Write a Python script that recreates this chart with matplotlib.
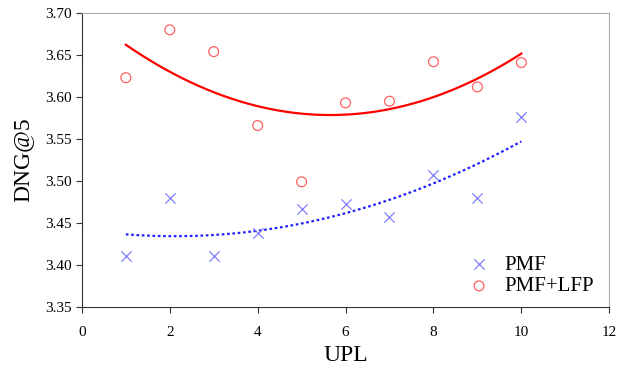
import matplotlib
matplotlib.use("Agg")
import numpy as np
import matplotlib.pyplot as plt

# datos
upl = [1, 2, 3, 4, 5, 6, 7, 8, 9, 10]
pmf = [3.411, 3.480, 3.411, 3.438, 3.467, 3.473, 3.457, 3.507, 3.480, 3.576]
pmf_lfp = [3.623, 3.680, 3.654, 3.566, 3.499, 3.593, 3.595, 3.642, 3.612, 3.641]

plt.rcParams['font.family'] = ['Liberation Serif', 'DejaVu Serif']

fig = plt.figure(figsize=(6.3, 3.72), dpi=100)
ax = fig.add_axes([0.130, 0.175, 0.837, 0.790])

x = np.array(upl)
xs = np.linspace(x.min(), x.max(), 200)

# líneas de tendencia polinómicas de grado 2
c_pmf = np.polyfit(x, pmf, 2)
c_lfp = np.polyfit(x, pmf_lfp, 2)
ax.plot(xs, np.polyval(c_lfp, xs), color='red', linewidth=1.6, zorder=2)
ax.plot(xs, np.polyval(c_pmf, xs), color='#2020ff', linewidth=1.6,
        linestyle=(0, (1.2, 1.2)), zorder=2)

ax.scatter(x, pmf, marker='x', s=55, color='#8080ff', linewidths=0.9,
           label='PMF', zorder=3)
ax.scatter(x, pmf_lfp, marker='o', s=50, facecolors='none',
           edgecolors='#ff6060', linewidths=0.9, label='PMF+LFP', zorder=3)

ax.set_xlim(0, 12)
ax.set_ylim(3.35, 3.70)
ax.set_xticks(range(0, 13, 2))
ax.set_yticks(np.arange(3.35, 3.701, 0.05))
ax.yaxis.set_major_formatter(matplotlib.ticker.FormatStrFormatter('%.2f'))
ax.tick_params(direction='out', length=4, labelsize=11, colors='#333333',
               labelcolor='black')
ax.tick_params(axis='x', pad=10)

for s in ['left', 'bottom']:
    ax.spines[s].set_color('#333333')
for s in ['top', 'right']:
    ax.spines[s].set_color('#aaaaaa')

ax.set_xlabel('UPL', fontsize=17, labelpad=4)
ax.set_ylabel('DNG@5', fontsize=17, labelpad=8)

ax.legend(loc='lower right', frameon=False, fontsize=15, handletextpad=0.2,
          labelspacing=0.1, borderaxespad=0.6, bbox_to_anchor=(1.01, -0.035))

fig.savefig('out.png', dpi=100)
